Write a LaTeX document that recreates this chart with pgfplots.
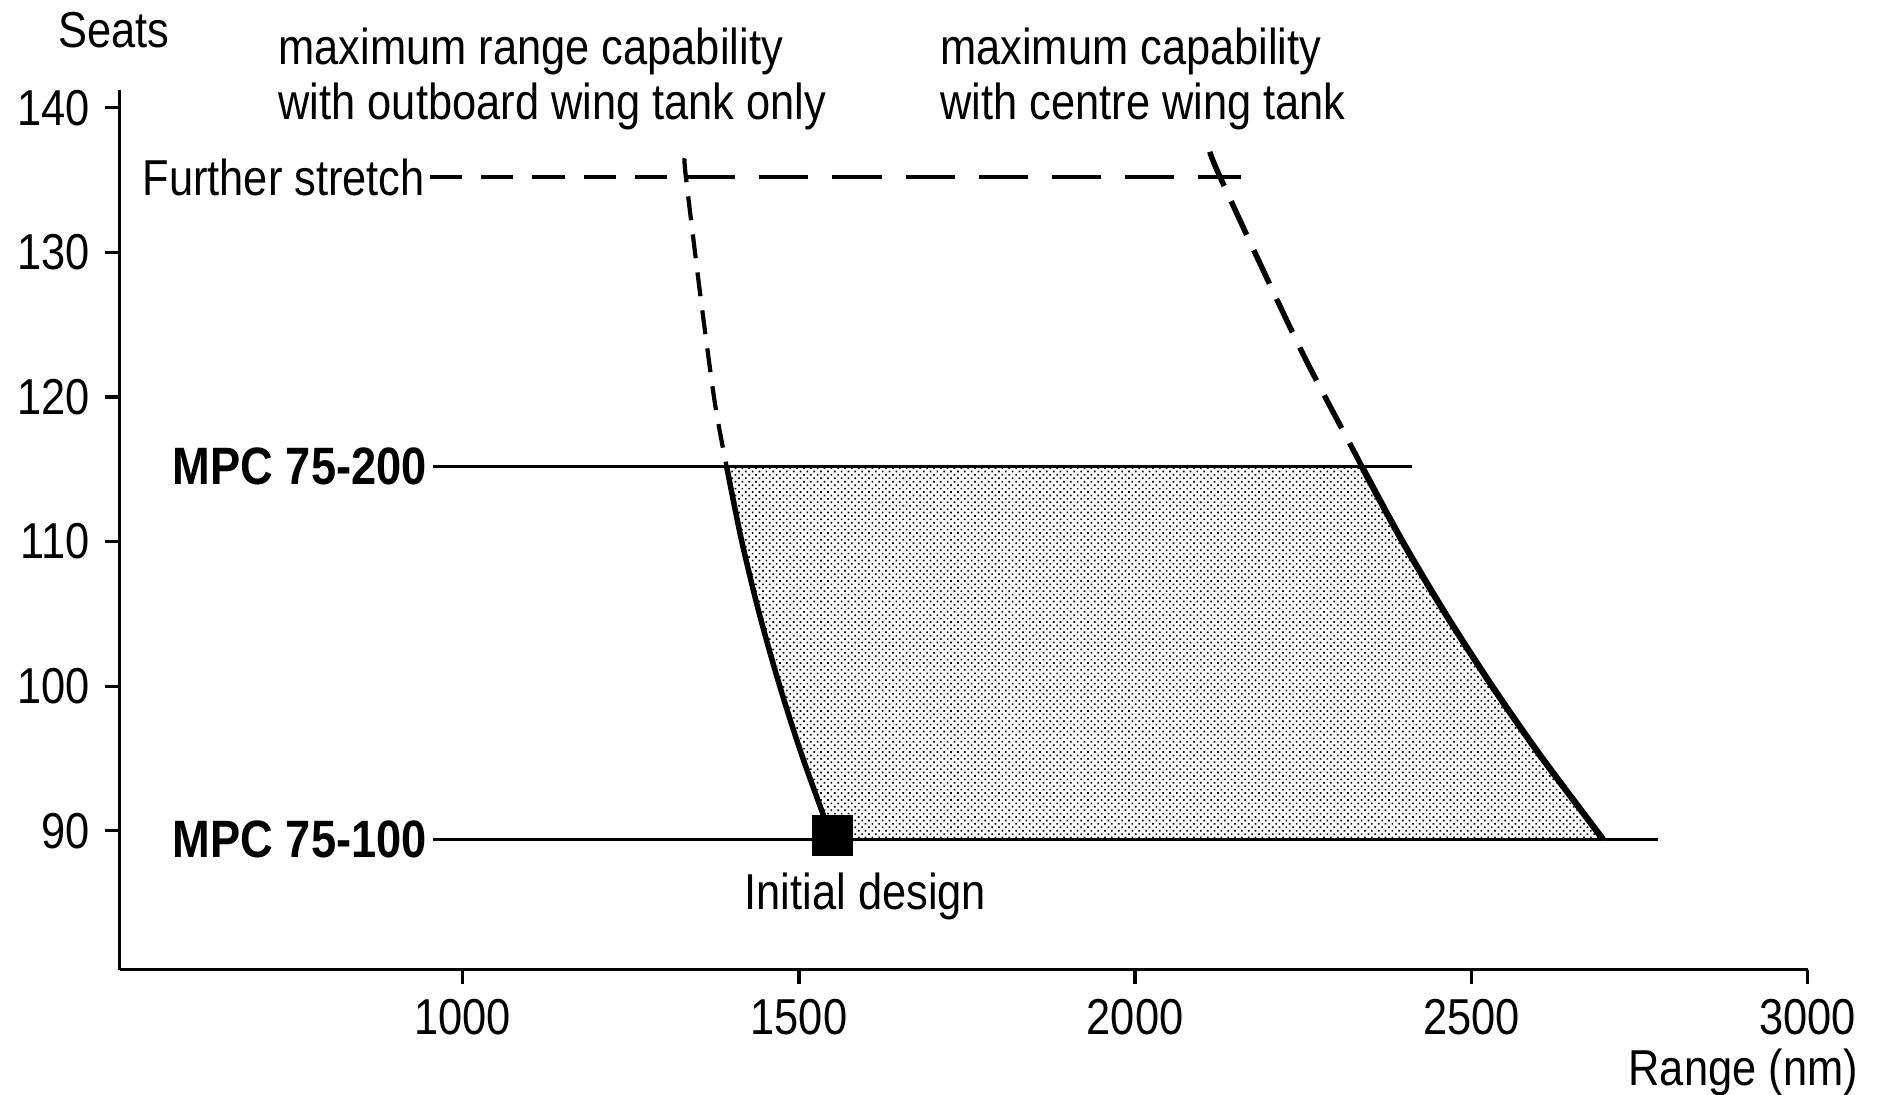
\documentclass[border=0pt]{standalone}
\usepackage{fontspec}
\setmainfont{Liberation Sans}[FakeStretch=0.86]
\usepackage{pgfplots}
\pgfplotsset{compat=1.18}
\usetikzlibrary{patterns.meta}

\begin{document}
\begin{tikzpicture}
\useasboundingbox (-1.00,-1.04) rectangle (14.68,8.10);
\begin{axis}[
  scale only axis, width=14.1cm, height=7.35cm,
  xmin=490, xmax=3000, ymin=80.4, ymax=141.24,
  axis lines=left, axis line style={-, line width=0.8pt},
  xtick={1000,1500,2000,2500,3000}, ytick={90,100,...,140},
  tick align=outside, major tick length=3.5pt,
  tick style={black, line width=0.8pt},
  /pgf/number format/assume math mode=true,
  /pgf/number format/set thousands separator={},
  ticklabel style={font=\fontsize{12}{14}\selectfont},
  clip=false,
]
% shaded region between the two capability curves
\addplot[draw=none, pattern={Dots[distance=1.15pt, radius=0.28pt, angle=45]}] coordinates {
  (1392.5,115.2) (1414.2,110.2) (1440.1,105.2) (1470.3,100.2) (1504.6,95.2) (1549.7,89.4)
  (2696,89.4) (2602.6,95.2) (2528,100.2) (2458.9,105.2) (2395.2,110.2) (2337,115.2)} -- cycle;

% horizontal seat lines
\addplot[line width=0.8pt] coordinates {(956,115.2) (2411,115.2)};
\addplot[line width=0.8pt] coordinates {(956,89.4) (2778,89.4)};
\addplot[line width=0.8pt, dash pattern=on 7.7pt off 4.5pt] coordinates {(951,135.2) (1330,135.2)};
\addplot[line width=0.8pt, dash pattern=on 11.7pt off 5.7pt] coordinates {(1332,135.2) (2158,135.2)};

% outboard wing tank only
\addplot[line width=1pt, dash pattern=on 5.7pt off 3.4pt, smooth] coordinates {
  (1330,136.5) (1332,135.2) (1353,127.2) (1375,119.6) (1392.5,115.2)};
\addplot[line width=1.3pt, smooth] coordinates {
  (1392.5,115.2) (1414.2,110.2) (1440.1,105.2) (1470.3,100.2) (1504.6,95.2) (1549.7,89.4)};

% centre wing tank
\addplot[line width=1.3pt, dash pattern=on 8.8pt off 4pt, smooth] coordinates {
  (2111,136.95) (2124,135.45) (2186,129.2) (2252.5,122.7) (2327,116.1) (2337,115.2)};
\addplot[line width=1.5pt, smooth] coordinates {
  (2337,115.2) (2395.2,110.2) (2458.9,105.2) (2528,100.2) (2602.6,95.2) (2696,89.4)};

% initial design
\addplot[only marks, mark=square*, mark size=4.7pt, black] coordinates {(1550,89.67)};

\node[anchor=east, inner sep=0pt, font=\fontsize{12}{14}\selectfont] at (axis cs:945,135.2) {Further stretch};
\node[anchor=east, inner sep=0pt, font=\bfseries\fontsize{12.5}{14}\selectfont] at (axis cs:948,115.2) {MPC 75-200};
\node[anchor=east, inner sep=0pt, font=\bfseries\fontsize{12.5}{14}\selectfont] at (axis cs:948,89.4) {MPC 75-100};
\node[inner sep=0pt, font=\fontsize{12}{14}\selectfont] at (axis cs:1599,85.45) {Initial design};
\node[anchor=north west, align=left, inner sep=0pt, font=\fontsize{12}{13.2}\selectfont] at (axis cs:725,145.6) {maximum range capability\\with outboard wing tank only};
\node[anchor=north west, align=left, inner sep=0pt, font=\fontsize{12}{13.2}\selectfont] at (axis cs:1709,145.6) {maximum capability\\with centre wing tank};
\node[inner sep=0pt, font=\fontsize{12}{14}\selectfont] at (axis cs:481,145.4) {Seats};
\node[anchor=east, inner sep=0pt, font=\fontsize{12}{14}\selectfont] at (axis cs:3076,73.3) {Range (nm)};
\end{axis}
\end{tikzpicture}
\end{document}
